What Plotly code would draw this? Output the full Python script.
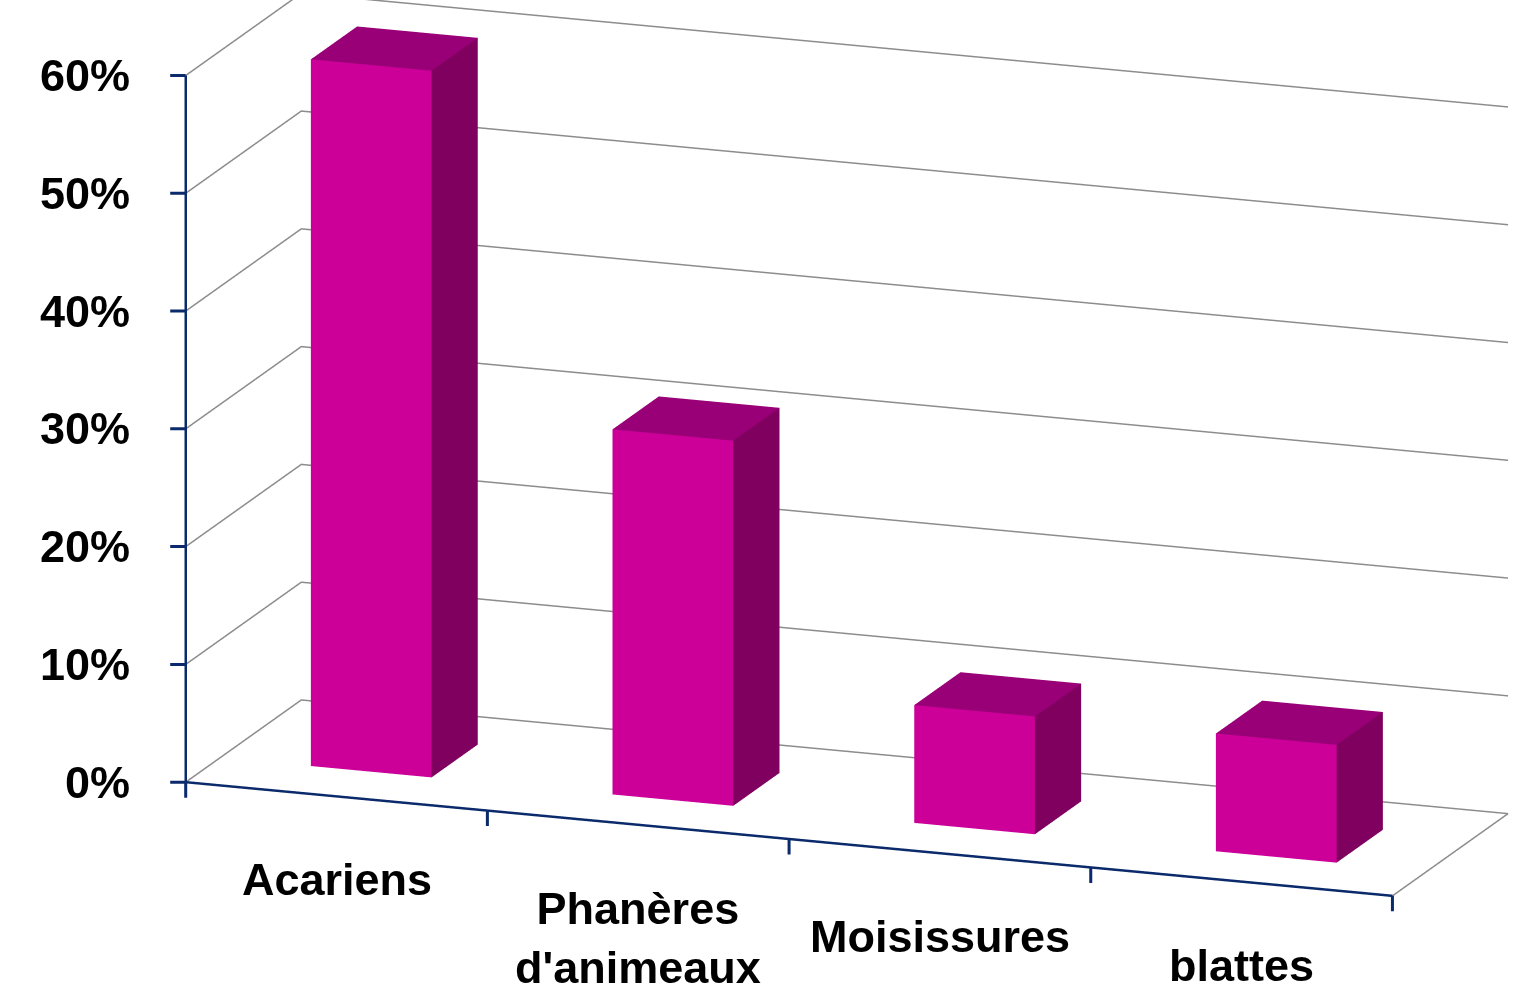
import numpy as np
import plotly.graph_objects as go

# ---- data -------------------------------------------------------------
categories = ["Acariens", "Phanères<br>d'animeaux", "Moisissures", "blattes"]
values = [0.60, 0.31, 0.10, 0.10]
z_ticks = [0.0, 0.1, 0.2, 0.3, 0.4, 0.5, 0.6]
z_tick_labels = ["0%", "10%", "20%", "30%", "40%", "50%", "60%"]

# ---- style / geometry ---------------------------------------------------
FRONT_COLOR = "#CC0099"
TOP_COLOR = "#990077"
SIDE_COLOR = "#800060"
AXIS_COLOR = "#0B2A6B"
GRID_COLOR = "#8C8C8C"
FONT = dict(family="Liberation Sans, Arial, sans-serif", size=45, color="black", weight="bold")

BAR_HALF = 0.2           # bar half-width in category units (gap width 150 %)
DEPTH = (0.3, 0.7)       # bar extent along the depth axis
X0, X1 = -0.5, len(categories) - 0.5
Y0, Y1 = 0.0, 1.0
Z0, Z1 = 0.0, 0.6
# scene ranges are padded a hair so that lines on the walls are not clipped
X_RANGE = [X0 - 0.01, X1 + 0.01]
Y_RANGE = [Y0 - 0.02, Y1 + 0.005]
Z_RANGE = [Z0 - 0.003, Z1 + 0.005]

# projection: 20 deg rotation, 15 deg elevation, orthographic
THETA, PHI = np.radians(20), np.radians(15)
S = 505.0                                   # screen px per scene unit
PX_PER = np.array([322.0, 339.0, 1223.0])   # px per data unit along x, y, z
ORIGIN_PX = (184.0, 783.0)                  # where (X0, Y0, Z0) lands on screen
VIEW_W, VIEW_H = 1517, 1007


def add_box(verts, faces, colors, x0, x1, y0, y1, z0, z1):
    """Front, top and right faces of one bar."""
    n = len(verts)
    verts += [(x0, y0, z0), (x1, y0, z0), (x1, y1, z0), (x0, y1, z0),
              (x0, y0, z1), (x1, y0, z1), (x1, y1, z1), (x0, y1, z1)]
    quads = [((4, 5, 6, 7), TOP_COLOR),    # top
             ((0, 1, 5, 4), FRONT_COLOR),  # front
             ((1, 2, 6, 5), SIDE_COLOR)]   # right
    for (a, b, c, d), col in quads:
        faces.append((n + a, n + b, n + c)); colors.append(col)
        faces.append((n + a, n + c, n + d)); colors.append(col)


verts, faces, fcolors = [], [], []
for i, v in enumerate(values):
    add_box(verts, faces, fcolors, i - BAR_HALF, i + BAR_HALF, DEPTH[0], DEPTH[1], 0.0, v)
verts = np.array(verts)
faces = np.array(faces)

fig = go.Figure()
fig.add_trace(go.Mesh3d(
    x=verts[:, 0], y=verts[:, 1], z=verts[:, 2],
    i=faces[:, 0], j=faces[:, 1], k=faces[:, 2],
    facecolor=fcolors, flatshading=True,
    lighting=dict(ambient=1.0, diffuse=0.0, specular=0.0, fresnel=0.0, roughness=1.0),
    hoverinfo="skip", showscale=False,
))


def add_lines(xs, ys, zs, color, width):
    fig.add_trace(go.Scatter3d(x=xs, y=ys, z=zs, mode="lines",
                               line=dict(color=color, width=width),
                               hoverinfo="skip", showlegend=False))


# grid lines on the side wall and the back wall
gx, gy, gz = [], [], []
for t in z_ticks:
    gx += [X0, X0, X1, None]; gy += [Y0, Y1, Y1, None]; gz += [t, t, t, None]
# right edge of the floor
gx += [X1, X1]; gy += [Y0, Y1]; gz += [Z0, Z0]
add_lines(gx, gy, gz, GRID_COLOR, 3)

# value axis and category axis
add_lines([X0, X0, None, X0, X1], [Y0, Y0, None, Y0, Y0], [Z0, Z1, None, Z0, Z0], AXIS_COLOR, 5)

annotations = []
tick = dict(text="", showarrow=True, arrowhead=0, arrowwidth=3, arrowcolor=AXIS_COLOR,
            standoff=0, startstandoff=0)
for t in z_ticks:
    annotations.append(dict(x=X0, y=Y0, z=t, ax=-17, ay=0, **tick))
for b in np.arange(X0, X1 + 0.01, 1.0):
    annotations.append(dict(x=b, y=Y0, z=Z0, ax=0, ay=17, **tick))
for t, lab in zip(z_ticks, z_tick_labels):
    annotations.append(dict(x=X0, y=Y0, z=t, text=lab, showarrow=False,
                            xanchor="right", yanchor="middle", xshift=-54, font=FONT))
for i, cat in enumerate(categories):
    annotations.append(dict(x=i, y=Y0, z=Z0, text=cat, showarrow=False,
                            xanchor="center", yanchor="top", yshift=-56, font=FONT))

# ---- camera -----------------------------------------------------------
view = np.array([np.sin(THETA) * np.cos(PHI), -np.cos(THETA) * np.cos(PHI), np.sin(PHI)])
right = np.array([np.cos(THETA), np.sin(THETA), 0.0])
up_s = np.array([-np.sin(THETA) * np.sin(PHI), np.cos(THETA) * np.sin(PHI), np.cos(PHI)])

ranges = np.array([X_RANGE, Y_RANGE, Z_RANGE])
spans = ranges[:, 1] - ranges[:, 0]
aspect = PX_PER * spans / S
mids = ranges.mean(axis=1)
q0 = (np.array([X0, Y0, Z0]) - mids) * aspect / spans     # origin in scene units
dx = (ORIGIN_PX[0] - VIEW_W / 2) / S
dy = -(ORIGIN_PX[1] - VIEW_H / 2) / S
center = q0 - dx * right - dy * up_s
eye = center + 2.0 * view

axis_common = dict(showbackground=False, showticklabels=False, zeroline=False, showgrid=False,
                   showline=False, ticks="", showspikes=False, title=dict(text=""))
fig.update_layout(
    width=VIEW_W, height=VIEW_H,
    margin=dict(l=0, r=0, t=0, b=0),
    paper_bgcolor="white",
    showlegend=False,
    scene=dict(
        domain=dict(x=[0, 1], y=[0, 1]),
        xaxis=dict(range=X_RANGE, **axis_common),
        yaxis=dict(range=Y_RANGE, **axis_common),
        zaxis=dict(range=Z_RANGE, **axis_common),
        aspectmode="manual",
        aspectratio=dict(x=aspect[0], y=aspect[1], z=aspect[2]),
        camera=dict(projection=dict(type="orthographic"),
                    eye=dict(x=eye[0], y=eye[1], z=eye[2]),
                    center=dict(x=center[0], y=center[1], z=center[2]),
                    up=dict(x=0, y=0, z=1)),
        annotations=annotations,
    ),
)

fig.write_html("out.html")
